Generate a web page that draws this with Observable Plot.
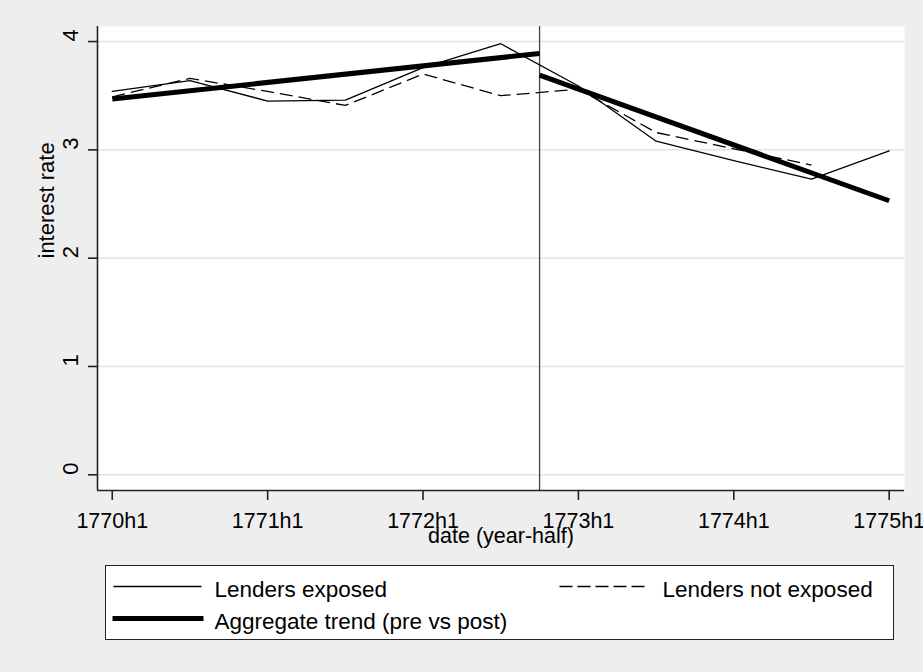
<!DOCTYPE html>
<html><head><meta charset="utf-8">
<script src="https://cdn.jsdelivr.net/npm/d3@7"></script>
<script src="https://cdn.jsdelivr.net/npm/@observablehq/plot@0.6"></script>
<style>
html,body{margin:0;padding:0;background:#eeeeee;}
body{width:923px;height:672px;position:relative;overflow:hidden;font-family:"Liberation Sans",Arial,sans-serif;}
#chart{position:absolute;left:0;top:0;}
#legend{position:absolute;left:105px;top:565px;width:787px;height:73px;background:#fff;border:1.5px solid #222;}
#legend svg{display:block;}
</style></head><body>
<div id="chart"></div>
<div id="legend"></div>
<script>
// half-year periods (index t = 0 .. 10)
const periods = ["1770h1","1770h2","1771h1","1771h2","1772h1","1772h2","1773h1","1773h2","1774h1","1774h2","1775h1"];
const xTickIdx = [0, 2, 4, 6, 8, 10];
const yTicks = [0, 1, 2, 3, 4];

// Lenders exposed (solid)
const exposed = [3.54, 3.64, 3.45, 3.46, 3.76, 3.98, 3.59, 3.08, 2.90, 2.73, 2.99];
// Lenders not exposed (dashed)
const notExposed = [3.49, 3.66, 3.54, 3.41, 3.70, 3.50, 3.56, 3.16, 3.01, 2.86, null];

// Aggregate trend (pre vs post), break at 1772h2 + half
const breakT = 5.5;
const trendPreT = [0, 5.5];
const trendPreV = [3.47, 3.89];
const trendPostT = [5.5, 10];
const trendPostV = [3.69, 2.53];

const legendLabels = ["Lenders exposed", "Lenders not exposed", "Aggregate trend (pre vs post)"];

const rowsExposed = exposed.map((v, t) => ({t, v})).filter(d => d.v != null);
const rowsNot = notExposed.map((v, t) => ({t, v})).filter(d => d.v != null);
const trend = [
  ...trendPreT.map((t, i) => ({t, v: trendPreV[i], seg: "pre"})),
  ...trendPostT.map((t, i) => ({t, v: trendPostV[i], seg: "post"}))
];

const xDom = [-0.19, 10.197];
const yDom = [-0.145, 4.139];
const FONT = "'Liberation Sans', Arial, sans-serif";

const chart = Plot.plot({
  width: 923, height: 555,
  marginLeft: 97, marginRight: 19, marginTop: 26, marginBottom: 65,
  x: {domain: xDom, label: null},
  y: {domain: yDom, label: null},
  style: {background: "transparent", fontFamily: FONT, fontSize: "22px", color: "#000", overflow: "visible"},
  marks: [
    Plot.frame({fill: "white", stroke: "none"}),
    Plot.ruleY(yTicks, {stroke: "#e4e4e4", strokeWidth: 1.5}),
    Plot.ruleX([breakT], {stroke: "#444", strokeWidth: 1.3}),
    Plot.line(rowsExposed, {x: "t", y: "v", stroke: "#000", strokeWidth: 1.3}),
    Plot.line(rowsNot, {x: "t", y: "v", stroke: "#000", strokeWidth: 1.3, strokeDasharray: "13,6", strokeLinecap: "butt"}),
    Plot.line(trend, {x: "t", y: "v", z: "seg", stroke: "#000", strokeWidth: 5, strokeLinecap: "butt"}),
    Plot.ruleX([xDom[0]], {stroke: "#222", strokeWidth: 1.6}),
    Plot.ruleY([yDom[0]], {stroke: "#222", strokeWidth: 1.6}),
    Plot.axisX({ticks: xTickIdx, tickFormat: i => periods[i], tickSize: 10, tickPadding: 12, fontSize: 21.5, stroke: "#222", strokeWidth: 1.6, label: null}),
    Plot.axisY({ticks: yTicks, tickSize: 9, tickFormat: () => "", stroke: "#222", strokeWidth: 1.6, label: null}),
    Plot.text(yTicks, {y: d => d, text: d => String(d), frameAnchor: "left", dx: -20, rotate: -90, lineAnchor: "bottom", fontSize: 22}),
    Plot.text(["interest rate"], {text: d => d, frameAnchor: "left", dx: -44, rotate: -90, lineAnchor: "bottom", fontSize: 22}),
    Plot.text(["date (year-half)"], {text: d => d, frameAnchor: "bottom", dy: 52, lineAnchor: "bottom", fontSize: 21.5})
  ]
});
document.getElementById("chart").appendChild(chart);

// legend
const ns = "http://www.w3.org/2000/svg";
const lg = document.createElementNS(ns, "svg");
lg.setAttribute("width", 787); lg.setAttribute("height", 73);
function line(x1, x2, y, w, dash) {
  const l = document.createElementNS(ns, "line");
  l.setAttribute("x1", x1); l.setAttribute("x2", x2);
  l.setAttribute("y1", y); l.setAttribute("y2", y);
  l.setAttribute("stroke", "#000"); l.setAttribute("stroke-width", w);
  if (dash) l.setAttribute("stroke-dasharray", dash);
  lg.appendChild(l);
}
function text(x, y, s) {
  const t = document.createElementNS(ns, "text");
  t.setAttribute("x", x); t.setAttribute("y", y);
  t.setAttribute("font-family", FONT); t.setAttribute("font-size", 22.5);
  t.textContent = s; lg.appendChild(t);
}
line(7.5, 95.5, 20.5, 1.3);
text(108.5, 30.5, legendLabels[0]);
line(453.5, 541.5, 20.5, 1.3, "13,5");
text(556.5, 30.5, legendLabels[1]);
line(6.5, 97.5, 52.5, 5);
text(108.5, 62.5, legendLabels[2]);
document.getElementById("legend").appendChild(lg);
</script>
</body></html>
